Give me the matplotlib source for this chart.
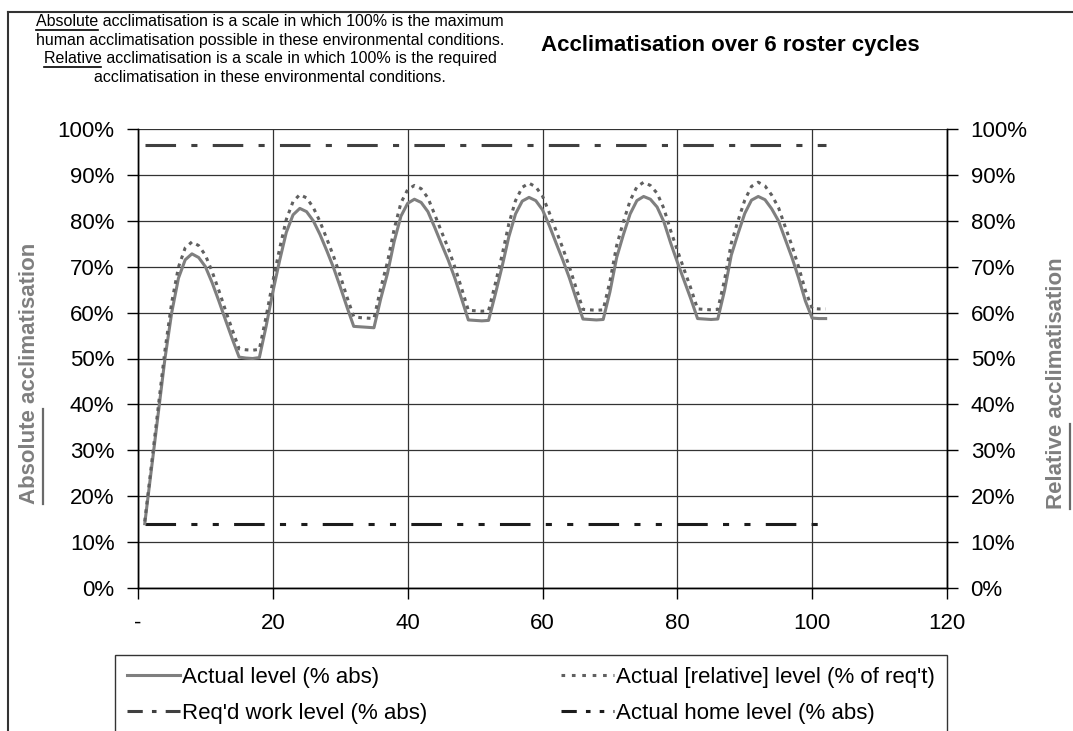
import matplotlib
matplotlib.use("Agg")
import matplotlib.pyplot as plt
from matplotlib.lines import Line2D
from matplotlib.ticker import PercentFormatter, FuncFormatter, MultipleLocator

plt.rcParams['font.family'] = ['Liberation Sans', 'DejaVu Sans']

# days of the 6 roster cycles (17 days each)
days = list(range(1, 103))

actual_abs = [
    14.0, 26.0, 38.0, 50.0, 60.0, 67.5, 71.5, 72.8, 72.0, 70.0, 66.5, 62.5, 58.3, 54.2, 50.3, 50.1, 50.0, 50.2,
    57.0, 64.5, 71.3, 77.5, 81.3, 82.7, 82.0, 80.0, 77.0, 73.5, 69.8, 65.6, 61.2, 57.0, 56.9, 56.8, 56.7,
    63.0, 68.5, 75.5, 81.0, 83.8, 84.7, 84.0, 82.0, 78.6, 75.0, 71.5, 67.5, 63.0, 58.4, 58.3, 58.2, 58.3,
    64.0, 70.0, 76.5, 81.5, 84.3, 85.1, 84.4, 82.4, 79.0, 75.2, 71.5, 67.5, 63.0, 58.6, 58.5, 58.4, 58.5,
    64.5, 72.0, 77.0, 81.5, 84.4, 85.3, 84.7, 83.0, 79.8, 75.2, 71.0, 67.0, 63.0, 58.7, 58.6, 58.5, 58.6,
    64.8, 72.5, 77.2, 81.6, 84.5, 85.3, 84.6, 82.6, 80.0, 76.0, 72.0, 67.5, 62.5, 58.8, 58.7, 58.7,
]

actual_rel = [
    14.5, 26.9, 39.4, 51.8, 62.2, 69.9, 74.1, 75.4, 74.6, 72.5, 68.9, 64.8, 60.4, 56.2, 52.1, 51.9, 51.8, 52.0,
    59.1, 66.8, 73.9, 80.3, 84.2, 85.7, 85.0, 82.9, 79.8, 76.1, 72.3, 68.0, 63.4, 59.1, 58.9, 58.8, 58.7,
    65.3, 71.0, 78.2, 83.9, 86.8, 87.7, 87.0, 85.0, 81.4, 77.7, 74.1, 69.9, 65.3, 60.5, 60.4, 60.3, 60.4,
    66.3, 72.5, 79.3, 84.4, 87.3, 88.2, 87.4, 85.4, 81.8, 77.9, 74.1, 69.9, 65.3, 60.7, 60.6, 60.5, 60.6,
    66.8, 74.6, 79.8, 84.4, 87.4, 88.4, 87.7, 86.0, 82.7, 77.9, 73.6, 69.4, 65.3, 60.8, 60.7, 60.6, 60.7,
    67.1, 75.1, 80.0, 84.5, 87.5, 88.4, 87.6, 85.6, 82.9, 78.7, 74.6, 69.9, 64.8, 60.9, 60.8, 60.8,
]

req_work = 96.5
home_level = 14.0
level_days = [1, 102]

x_ticks = [0, 20, 40, 60, 80, 100, 120]

note_lines = [
    'Absolute acclimatisation is a scale in which 100% is the maximum',
    'human acclimatisation possible in these environmental conditions.',
    'Relative acclimatisation is a scale in which 100% is the required',
    'acclimatisation in these environmental conditions.',
]

W, H = 1073, 731
fig = plt.figure(figsize=(W / 100, H / 100), dpi=100)
fig.patch.set_facecolor('white')


def fx(px):
    return px / W


def fy(py):
    return 1 - py / H


ax = fig.add_axes([fx(138), fy(588), fx(947) - fx(138), fy(129) - fy(588)])
ax2 = ax.twinx()

ax.plot(days, actual_abs, color='#7f7f7f', lw=2.2, solid_joinstyle='round', zorder=4)
ax.plot(days, actual_rel, color='#606060', lw=2.2, dashes=(1.2, 1.6), dash_capstyle='butt', zorder=5)
ax.plot(level_days, [req_work, req_work], color='#404040', lw=2.2, dashes=(10, 5, 2, 5), zorder=3)
ax.plot(level_days, [home_level, home_level], color='#1c1c1c', lw=2.2, dashes=(10, 5, 2, 5, 2, 5), zorder=3)

for a in (ax, ax2):
    a.set_ylim(0, 100)
    a.yaxis.set_major_locator(MultipleLocator(10))
    a.yaxis.set_major_formatter(PercentFormatter(xmax=100, decimals=0))
    a.spines['top'].set_visible(False)
    for s in a.spines.values():
        s.set_color('black')
        s.set_linewidth(1.0)

ax.set_xlim(0, 120)
ax.set_xticks(x_ticks)
ax.xaxis.set_major_formatter(FuncFormatter(lambda v, p: '-' if v == 0 else f'{v:.0f}'))
ax.grid(True, color='#333333', lw=0.9)
ax.set_axisbelow(True)

ax.tick_params(axis='both', direction='out', length=8, width=1, labelsize=16, colors='black')
ax.tick_params(axis='y', pad=9)
ax.tick_params(axis='x', pad=10)
ax2.tick_params(axis='y', direction='out', length=8, width=1, labelsize=16, pad=9)

# outer chart frame (cut off at right and bottom)
fig.add_artist(Line2D([fx(8), fx(8)], [fy(12), fy(740)], color='#333333', lw=1.5))
fig.add_artist(Line2D([fx(8), fx(1080)], [fy(12), fy(12)], color='#333333', lw=1.5))

fig.text(fx(730), fy(45), 'Acclimatisation over 6 roster cycles', ha='center', va='center',
         fontsize=16, fontweight='bold')

note_y = [21, 40, 58, 77]
note_txt = []
for line, yy in zip(note_lines, note_y):
    note_txt.append(fig.text(fx(270), fy(yy), line, ha='center', va='center', fontsize=11.5))

lab_kw = dict(rotation=90, ha='center', va='center', fontsize=16, fontweight='bold', color='#7f7f7f')
left_lab = fig.text(fx(30), fy(373), 'Absolute acclimatisation', **lab_kw)
right_lab = fig.text(fx(1057), fy(383), 'Relative acclimatisation', **lab_kw)

handles = [
    Line2D([], [], color='#7f7f7f', lw=2.2),
    Line2D([], [], color='#404040', lw=2.2, dashes=(5, 3, 1.5, 3)),
    Line2D([], [], color='#606060', lw=2.2, dashes=(1.2, 2.2)),
    Line2D([], [], color='#1c1c1c', lw=2.2, dashes=(5, 3, 1.5, 3, 1.5, 3)),
]
labels = ['Actual level (% abs)', "Req'd work level (% abs)",
          "Actual [relative] level (% of req't)", 'Actual home level (% abs)']
leg = fig.legend(handles, labels, loc='upper left', bbox_to_anchor=(fx(115), fy(655)),
                 ncol=2, fontsize=16, frameon=True, fancybox=False, edgecolor='black',
                 borderaxespad=0, handlelength=2.4, handletextpad=0.1, columnspacing=6.0,
                 borderpad=0.52, labelspacing=0.68)
leg.get_frame().set_linewidth(1.0)

# underline the words "Absolute" and "Relative"
fig.canvas.draw()
rend = fig.canvas.get_renderer()


def word_len(word, src):
    tmp = fig.text(0, 0, word, fontsize=src.get_fontsize(), fontweight=src.get_fontweight())
    w = tmp.get_window_extent(rend).width
    tmp.remove()
    return w


for i, word in ((0, 'Absolute'), (2, 'Relative')):
    bb = note_txt[i].get_window_extent(rend)
    w = word_len(word, note_txt[i])
    yl = bb.y0 - 1
    fig.add_artist(Line2D([bb.x0 / W, (bb.x0 + w) / W], [yl / H, yl / H], color='black', lw=1.2))

for lab, word in ((left_lab, 'Absolute'), (right_lab, 'Relative')):
    bb = lab.get_window_extent(rend)
    w = word_len(word, lab)
    xl = bb.x1 + 2
    fig.add_artist(Line2D([xl / W, xl / W], [bb.y0 / H, (bb.y0 + w) / H], color='#6a6a6a', lw=1.6))

fig.savefig('out.png', dpi=100)
